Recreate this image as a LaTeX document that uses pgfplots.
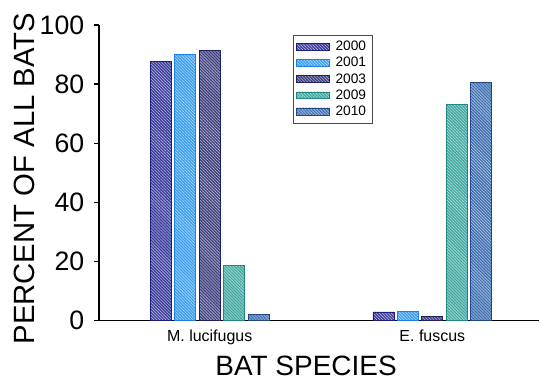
\documentclass[border=0pt]{standalone}
\usepackage{fontspec}
\setmainfont{Liberation Sans}
\usepackage{pgfplots}
\pgfplotsset{compat=1.18}
\usetikzlibrary{patterns.meta}
\definecolor{cA}{HTML}{3C3C9C}\definecolor{cAd}{HTML}{1E1E78}
\definecolor{cB}{HTML}{3A9EF0}\definecolor{cBd}{HTML}{2080E0}
\definecolor{cC}{HTML}{40407E}\definecolor{cCd}{HTML}{202060}
\definecolor{cD}{HTML}{40A8A0}\definecolor{cDd}{HTML}{208880}
\definecolor{cE}{HTML}{4070B0}\definecolor{cEd}{HTML}{204888}
\tikzset{hbar/.style n args={2}{fill=#1, draw=#2, line width=0.6pt,
  postaction={pattern={Lines[angle=-45,distance=1.6pt,line width=0.45pt]}, pattern color=white!60!#1}}}
\begin{document}
\begin{tikzpicture}
\begin{axis}[scale only axis, width=330.75pt, height=222pt,
 xmin=-0.498, xmax=1.480, ymin=0, ymax=100,
 axis x line=bottom, axis y line=left,
 axis line style={-, line width=1.2pt, black},
 ybar=2.625pt, bar width=15.75pt,
 xtick={0,1}, xticklabels={M. lucifugus, E. fuscus}, x tick style={draw=none},
 ytick={0,20,...,100}, tick align=outside, major tick length=3.5pt,
 y tick style={line width=1pt, black},
 /pgf/number format/assume math mode=true,
 yticklabel style={font=\fontsize{20}{24}\selectfont, xshift=-4pt},
 xticklabel style={font=\fontsize{12}{14}\selectfont},
 xlabel={BAT SPECIES}, ylabel={PERCENT OF ALL BATS},
 xlabel style={font=\fontsize{21}{25}\selectfont, at={(axis description cs:0.4705,-0.152)}, anchor=center},
 ylabel style={font=\fontsize{22}{26}\selectfont, at={(axis description cs:-0.170,0.48)}, anchor=center},
 legend style={at={(0.44,0.966)}, anchor=north west, font=\fontsize{10.3}{12}\selectfont,
   draw=black!70, line width=0.4pt, row sep=-0.6pt, inner sep=2.5pt},
 legend cell align=left,
 every axis plot post/.append style={legend image code/.code={\draw[##1, line width=0.5pt] (0pt,-2.6pt) rectangle (24.75pt,2.6pt); \path (0pt,0pt) (27pt,0pt);}},
]
\addplot[hbar={cA}{cAd}] coordinates {(0,87.6) (1,2.9)};
\addplot[hbar={cB}{cBd}] coordinates {(0,90.1) (1,3.2)};
\addplot[hbar={cC}{cCd}] coordinates {(0,91.3) (1,1.4)};
\addplot[hbar={cD}{cDd}] coordinates {(0,18.6) (1,73.2)};
\addplot[hbar={cE}{cEd}] coordinates {(0,2.0) (1,80.5)};
\legend{2000,2001,2003,2009,2010}
\coordinate (sw) at (rel axis cs:0,0);
\coordinate (ne) at (rel axis cs:1,1);
\end{axis}
\path ([xshift=-74.25pt,yshift=-42.75pt]sw) rectangle ([yshift=18.75pt]ne);
\end{tikzpicture}
\end{document}
